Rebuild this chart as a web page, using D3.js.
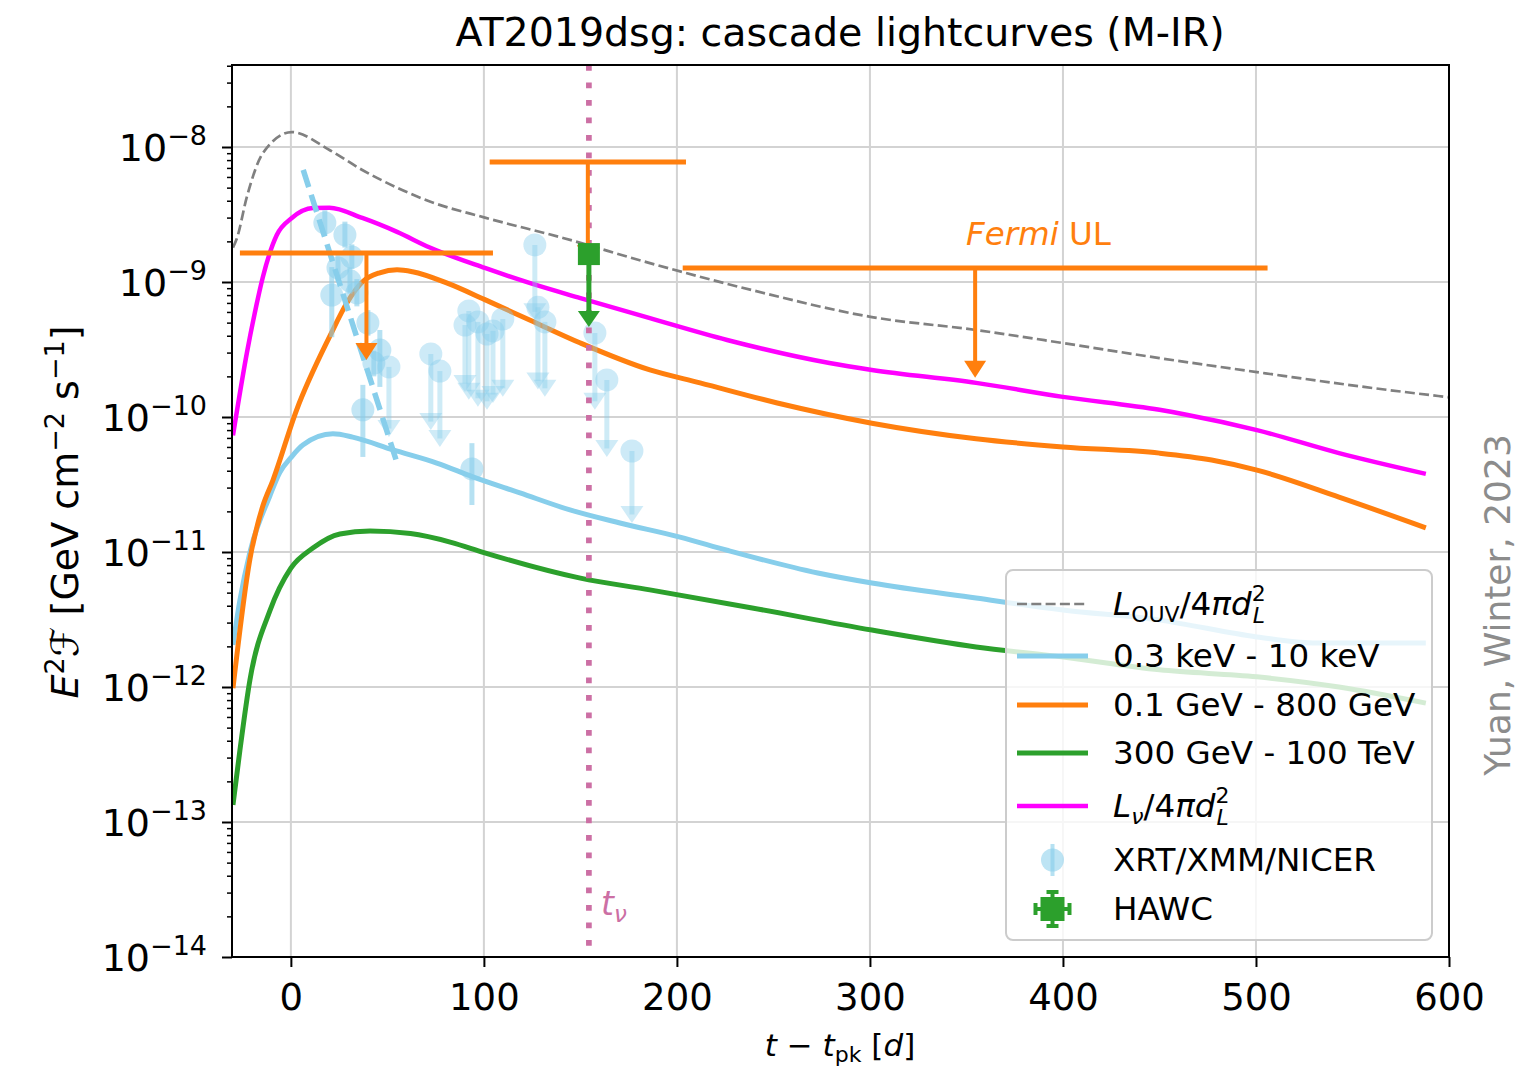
<!DOCTYPE html>
<html><head><meta charset="utf-8">
<script src="https://cdn.jsdelivr.net/npm/d3@7"></script>
<style>body{margin:0;background:#fff}text{font-family:"DejaVu Sans",sans-serif}</style>
</head><body>
<svg id="c" width="1519" height="1069"></svg>
<script>
// ---------------- data ----------------
const xTicks = [0, 100, 200, 300, 400, 500, 600];
const yTickExps = [-14, -13, -12, -11, -10, -9, -8];

// L_OUV / 4 pi dL^2 (grey dashed)
const tOUV = [-30, -28, -22.8, -14.5, 0.5, 20, 37, 55, 72, 100.5, 141, 186, 239, 301, 355, 400, 450, 500.5, 556, 600];
const fOUV = [1.8e-9, 2.1e-9, 4.27e-9, 9.0e-9, 1.29e-8, 9.5e-9, 6.76e-9, 5.0e-9, 3.95e-9, 3.0e-9, 2.12e-9, 1.38e-9, 8.7e-10, 5.5e-10, 4.41e-10, 3.53e-10, 2.73e-10, 2.15e-10, 1.67e-10, 1.40e-10];

// 0.3 keV - 10 keV
const tX = [-30, -26.4, -21.2, -10.9, -5.7, 0, 6.2, 21.8, 32, 53, 75.6, 94.3, 118.7, 144.6, 170.5, 201.6, 226, 273, 301, 355, 400, 450, 500.5, 529.5, 588];
const fX = [2.05e-12, 4.4e-12, 1.0e-11, 2.6e-11, 3.9e-11, 5.0e-11, 6.2e-11, 7.5e-11, 7.1e-11, 5.7e-11, 4.56e-11, 3.6e-11, 2.74e-11, 2.05e-11, 1.64e-11, 1.29e-11, 1.03e-11, 6.99e-12, 5.89e-12, 4.56e-12, 3.72e-12, 3.13e-12, 2.35e-12, 2.12e-12, 2.12e-12];

// 0.1 GeV - 800 GeV
const tGeV = [-30, -21.2, -14.5, -9.3, 3, 20, 29, 37, 46, 55, 63, 81, 100.5, 124, 150, 186, 212, 252, 301, 355, 400, 450, 477, 500.5, 543, 588];
const fGeV = [0.98e-12, 8.9e-12, 2.2e-11, 3.4e-11, 1.13e-10, 3.92e-10, 6.99e-10, 1.0e-9, 1.17e-9, 1.23e-9, 1.19e-9, 9.8e-10, 7.4e-10, 5.2e-10, 3.53e-10, 2.23e-10, 1.79e-10, 1.27e-10, 9.0e-11, 6.9e-11, 6.0e-11, 5.4e-11, 4.8e-11, 4.04e-11, 2.55e-11, 1.51e-11];

// 300 GeV - 100 TeV
const tTeV = [-30, -26.4, -21.2, -10.9, 0, 11.4, 25.4, 41, 62, 83, 100, 150, 186, 239, 301, 355, 400, 450, 500.5, 543, 588];
const fTeV = [1.34e-13, 3.4e-13, 1.13e-12, 3.66e-12, 7.6e-12, 1.07e-11, 1.36e-11, 1.43e-11, 1.37e-11, 1.18e-11, 9.9e-12, 6.4e-12, 5.24e-12, 3.85e-12, 2.64e-12, 1.98e-12, 1.67e-12, 1.34e-12, 1.19e-12, 1.0e-12, 7.6e-13];

// L_nu / 4 pi dL^2
const tNu = [-30, -22.8, -18.7, -14.5, -7.3, 0.5, 11.4, 20, 37, 55, 72, 100.5, 124, 150, 186, 226, 279, 301, 355, 400, 450, 464, 500.5, 543, 588];
const fNu = [7.3e-11, 2.98e-10, 5.9e-10, 1.09e-9, 2.23e-9, 2.98e-9, 3.53e-9, 3.55e-9, 2.98e-9, 2.35e-9, 1.8e-9, 1.27e-9, 9.8e-10, 7.6e-10, 5.4e-10, 3.72e-10, 2.51e-10, 2.23e-10, 1.79e-10, 1.41e-10, 1.13e-10, 1.04e-10, 8.0e-11, 5.4e-11, 3.79e-11];

// X-ray decay fit (light blue dashed)
const tFit = [6.4, 54.8];
const fFit = [6.76e-9, 4.67e-11];

// XRT/XMM/NICER detections
const detT  = [17.6, 28, 31.6, 24.4, 30.6, 21.2, 34.2, 39.9, 46.1, 43, 37.3, 93.8];
const detF  = [2.74e-9, 2.23e-9, 1.53e-9, 1.27e-9, 1.02e-9, 8.0e-10, 8.3e-10, 4.97e-10, 3.13e-10, 2.51e-10, 1.13e-10, 4.12e-11];
const detLo = [2.2e-9, 1.8e-9, 1.25e-9, 1.0e-9, 8.2e-10, 3.9e-10, 6.6e-10, 4.0e-10, 1.67e-10, 2.0e-10, 5.06e-11, 2.23e-11];
const detHi = [3.4e-9, 2.8e-9, 1.9e-9, 1.6e-9, 1.28e-9, 1.29e-9, 1.05e-9, 6.2e-10, 4.41e-10, 3.1e-10, 1.73e-10, 6.4e-11];

// XRT/XMM/NICER upper limits
const ulT   = [50.8, 72.5, 77.2, 90.2, 92.2, 96.9, 101.6, 104.7, 109.8, 126.4, 128, 131.6, 157.5, 163.7, 176.7];
const ulF   = [2.35e-10, 2.93e-10, 2.19e-10, 4.8e-10, 6.1e-10, 5.06e-10, 4.12e-10, 4.34e-10, 5.32e-10, 1.88e-9, 6.5e-10, 5.06e-10, 4.19e-10, 1.88e-10, 5.6e-11];
const ulTip = [7.1e-11, 8.0e-11, 6.0e-11, 1.53e-10, 1.34e-10, 1.19e-10, 1.13e-10, 1.27e-10, 1.41e-10, 5.2e-10, 1.6e-10, 1.41e-10, 1.13e-10, 5.06e-11, 1.64e-11];

// Fermi upper limits
const fermiT0  = [-26.4, 103, 203];
const fermiT1  = [104.7, 204.7, 506];
const fermiF   = [1.64e-9, 7.74e-9, 1.27e-9];
const fermiTip = [2.64e-10, 1.40e-9, 1.95e-10];

// HAWC
const hawcT = [154.4];
const hawcF = [1.61e-9];
const hawcTip = [4.64e-10];

// neutrino time
const tNuArrival = 154.4;

// ---------------- drawing ----------------
const L = 232, R = 1449, T = 65, B = 957;
const svg = d3.select("#c");
const x = d3.scaleLinear().domain([-30.5, 600]).range([L, R]);
const y = d3.scaleLog().domain([1e-14, 4.05e-8]).range([B, T]);

const C = {sky: "#87ceeb", orange: "#ff7f0e", green: "#2ca02c", mag: "#ff00ff", gray: "#808080", pink: "#cc6fa4"};

svg.append("defs").append("clipPath").attr("id", "clip")
  .append("rect").attr("x", L).attr("y", T).attr("width", R - L).attr("height", B - T);

// grid
const grid = svg.append("g");
xTicks.forEach(v => grid.append("line").attr("x1", x(v)).attr("x2", x(v)).attr("y1", T).attr("y2", B)
  .attr("stroke", "#d3d3d3").attr("stroke-width", 2));
yTickExps.forEach(e => grid.append("line").attr("x1", L).attr("x2", R).attr("y1", y(Math.pow(10, e))).attr("y2", y(Math.pow(10, e)))
  .attr("stroke", "#d3d3d3").attr("stroke-width", 2));

const plot = svg.append("g").attr("clip-path", "url(#clip)");
const line = d3.line().x(d => x(d[0])).y(d => y(d[1])).curve(d3.curveMonotoneX);
function curve(ts, fs, color, w, dash) {
  const p = plot.append("path").datum(ts.map((t, i) => [t, fs[i]]))
    .attr("d", line).attr("fill", "none").attr("stroke", color).attr("stroke-width", w)
    .attr("stroke-linejoin", "round");
  if (dash) p.attr("stroke-dasharray", dash);
  return p;
}
curve(tOUV, fOUV, C.gray, 2.7, "10 4.3");
curve(tX, fX, C.sky, 5);
curve(tGeV, fGeV, C.orange, 5);
curve(tTeV, fTeV, C.green, 5);
curve(tNu, fNu, C.mag, 4.5);

function arrow(g, cx, y0, y1, color, lw, hw, hh, op) {
  g.append("line").attr("x1", cx).attr("x2", cx).attr("y1", y0).attr("y2", y1 - hh * 0.5)
    .attr("stroke", color).attr("stroke-width", lw).attr("opacity", op);
  g.append("path").attr("d", `M${cx - hw / 2},${y1 - hh}L${cx + hw / 2},${y1 - hh}L${cx},${y1}Z`)
    .attr("fill", color).attr("opacity", op);
}
// XRT detections
detT.forEach((t, i) => {
  plot.append("line").attr("x1", x(t)).attr("x2", x(t)).attr("y1", y(detLo[i])).attr("y2", y(detHi[i]))
    .attr("stroke", C.sky).attr("stroke-width", 5).attr("opacity", 0.6);
  plot.append("circle").attr("cx", x(t)).attr("cy", y(detF[i])).attr("r", 11.5)
    .attr("fill", C.sky).attr("opacity", 0.5);
});
// XRT upper limits
ulT.forEach((t, i) => {
  plot.append("circle").attr("cx", x(t)).attr("cy", y(ulF[i])).attr("r", 11.5)
    .attr("fill", C.sky).attr("opacity", 0.42);
  arrow(plot, x(t), y(ulF[i]), y(ulTip[i]), C.sky, 5, 23, 17, 0.4);
});
// fit line
curve(tFit, fFit, C.sky, 5.5, "18 8");

// t_nu dotted line
plot.append("line").attr("x1", x(tNuArrival)).attr("x2", x(tNuArrival)).attr("y1", T).attr("y2", B)
  .attr("stroke", C.pink).attr("stroke-width", 5.7).attr("stroke-dasharray", "5.7 11.8");

// Fermi ULs
fermiF.forEach((f, i) => {
  const xc = x((fermiT0[i] + fermiT1[i]) / 2);
  plot.append("line").attr("x1", x(fermiT0[i])).attr("x2", x(fermiT1[i])).attr("y1", y(f)).attr("y2", y(f))
    .attr("stroke", C.orange).attr("stroke-width", 5);
  arrow(plot, xc, y(f), y(fermiTip[i]), C.orange, 4, 22, 17, 1);
});
svg.append("text").attr("x", 966).attr("y", 245).attr("font-size", 32.5).attr("fill", C.orange)
  .html('<tspan font-style="italic">Fermi</tspan> UL');

// HAWC
hawcT.forEach((t, i) => {
  arrow(plot, x(t), y(hawcF[i]), y(hawcTip[i]), C.green, 5, 22, 16, 1);
  plot.append("rect").attr("x", x(t) - 11).attr("y", y(hawcF[i]) - 11).attr("width", 22).attr("height", 22).attr("fill", C.green);
});

// t_nu label
svg.append("text").attr("x", 601).attr("y", 915).attr("font-size", 33).attr("fill", C.pink)
  .html('<tspan font-style="italic">t</tspan><tspan font-size="23" dy="7" font-style="italic">ν</tspan>');

// axes frame
svg.append("rect").attr("x", L).attr("y", T).attr("width", R - L).attr("height", B - T)
  .attr("fill", "none").attr("stroke", "#000").attr("stroke-width", 2);

// x ticks
const xAxis = d3.axisBottom(x).tickValues(xTicks).tickSize(10).tickPadding(8).tickFormat(d3.format("d"));
const gx = svg.append("g").attr("transform", `translate(0,${B})`).call(xAxis);
gx.select(".domain").remove();
gx.selectAll(".tick line").attr("stroke-width", 2);
gx.selectAll(".tick text").attr("font-size", 37).attr("font-family", "DejaVu Sans").attr("dy", "0.95em");

// y ticks (major + minor)
const yAxis = d3.axisLeft(y).tickValues(yTickExps.map(e => Math.pow(10, e))).tickSize(10).tickFormat("");
const gy = svg.append("g").attr("transform", `translate(${L},0)`).call(yAxis);
gy.select(".domain").remove();
gy.selectAll(".tick line").attr("stroke-width", 2);
const minorVals = [];
for (let e = -14; e <= -8; e++) for (let m = 2; m <= 9; m++) { const v = m * Math.pow(10, e); if (v <= 4.05e-8) minorVals.push(v); }
const gym = svg.append("g").attr("transform", `translate(${L},0)`)
  .call(d3.axisLeft(y).tickValues(minorVals).tickSize(5).tickFormat(""));
gym.select(".domain").remove();
gym.selectAll(".tick line").attr("stroke-width", 1.5);
yTickExps.forEach(e => {
  svg.append("text").attr("x", 207).attr("y", y(Math.pow(10, e)) + 14).attr("text-anchor", "end")
    .attr("font-size", 38)
    .html(`10<tspan font-size="27" dy="-16">−${Math.abs(e)}</tspan>`);
});

// title
svg.append("text").attr("x", 840).attr("y", 46).attr("text-anchor", "middle").attr("font-size", 39.5)
  .text("AT2019dsg: cascade lightcurves (M-IR)");

// x label
svg.append("text").attr("x", 840).attr("y", 1056).attr("text-anchor", "middle").attr("font-size", 31)
  .html('<tspan font-style="italic">t</tspan> − <tspan font-style="italic">t</tspan><tspan font-size="22" dy="6">pk</tspan><tspan dy="-6"> [</tspan><tspan font-style="italic">d</tspan>]');

// y label
svg.append("text").attr("transform", "translate(78,512) rotate(-90)").attr("text-anchor", "middle").attr("font-size", 38)
  .html('<tspan font-style="italic">E</tspan><tspan font-size="27" dy="-14">2</tspan><tspan dy="14" font-style="italic">ℱ</tspan> [GeV cm<tspan font-size="27" dy="-14">−2</tspan><tspan dy="14"> s</tspan><tspan font-size="27" dy="-14">−1</tspan><tspan dy="14">]</tspan>');

// credit
svg.append("text").attr("transform", "translate(1510,605) rotate(-90)").attr("text-anchor", "middle")
  .attr("font-size", 36).attr("font-family", "Open Sans").attr("fill", "#8c8c8c").text("Yuan, Winter, 2023");

// legend
const lg = svg.append("g");
lg.append("rect").attr("x", 1006).attr("y", 570).attr("width", 426).attr("height", 370).attr("rx", 7)
  .attr("fill", "#fff").attr("fill-opacity", 0.8).attr("stroke", "#cccccc").attr("stroke-width", 2);
const rows = [604, 656, 705, 753, 806, 860, 909];
const hx0 = 1017, hx1 = 1088, tx = 1113, fs = 32.6;
function lline(yy, color, w, dash) {
  const l = lg.append("line").attr("x1", hx0).attr("x2", hx1).attr("y1", yy).attr("y2", yy).attr("stroke", color).attr("stroke-width", w);
  if (dash) l.attr("stroke-dasharray", dash);
}
function ltext(yy, html) { lg.append("text").attr("x", tx).attr("y", yy + 11).attr("font-size", fs).html(html); }
lline(rows[0], C.gray, 2.7, "10 4.3");
ltext(rows[0], '<tspan font-style="italic">L</tspan><tspan font-size="22" dy="7">OUV</tspan><tspan dy="-7">/4</tspan><tspan font-style="italic">πd</tspan><tspan font-size="22" dy="-14">2</tspan><tspan font-size="22" font-style="italic" dx="-13" dy="22">L</tspan>');
lline(rows[1], C.sky, 5);
ltext(rows[1], "0.3 keV - 10 keV");
lline(rows[2], C.orange, 5);
ltext(rows[2], "0.1 GeV - 800 GeV");
lline(rows[3], C.green, 5);
ltext(rows[3], "300 GeV - 100 TeV");
lline(rows[4], C.mag, 4.5);
ltext(rows[4], '<tspan font-style="italic">L</tspan><tspan font-size="22" font-style="italic" dy="7">ν</tspan><tspan dy="-7">/4</tspan><tspan font-style="italic">πd</tspan><tspan font-size="22" dy="-14">2</tspan><tspan font-size="22" font-style="italic" dx="-13" dy="22">L</tspan>');
// XRT handle
const hc = (hx0 + hx1) / 2;
lg.append("line").attr("x1", hc).attr("x2", hc).attr("y1", rows[5] - 16).attr("y2", rows[5] + 16).attr("stroke", C.sky).attr("stroke-width", 4).attr("opacity", 0.6);
lg.append("circle").attr("cx", hc).attr("cy", rows[5]).attr("r", 11.5).attr("fill", C.sky).attr("opacity", 0.55);
ltext(rows[5], "XRT/XMM/NICER");
// HAWC handle
const hy = rows[6];
lg.append("line").attr("x1", hc - 17).attr("x2", hc + 17).attr("y1", hy).attr("y2", hy).attr("stroke", C.green).attr("stroke-width", 4);
lg.append("line").attr("x1", hc).attr("x2", hc).attr("y1", hy - 17).attr("y2", hy + 17).attr("stroke", C.green).attr("stroke-width", 4);
[[hc - 17, hy - 6, hc - 17, hy + 6], [hc + 17, hy - 6, hc + 17, hy + 6], [hc - 6, hy - 17, hc + 6, hy - 17], [hc - 6, hy + 17, hc + 6, hy + 17]]
  .forEach(s => lg.append("line").attr("x1", s[0]).attr("y1", s[1]).attr("x2", s[2]).attr("y2", s[3]).attr("stroke", C.green).attr("stroke-width", 4));
lg.append("rect").attr("x", hc - 12).attr("y", hy - 12).attr("width", 24).attr("height", 24).attr("fill", C.green);
ltext(rows[6], "HAWC");
</script>
</body></html>
